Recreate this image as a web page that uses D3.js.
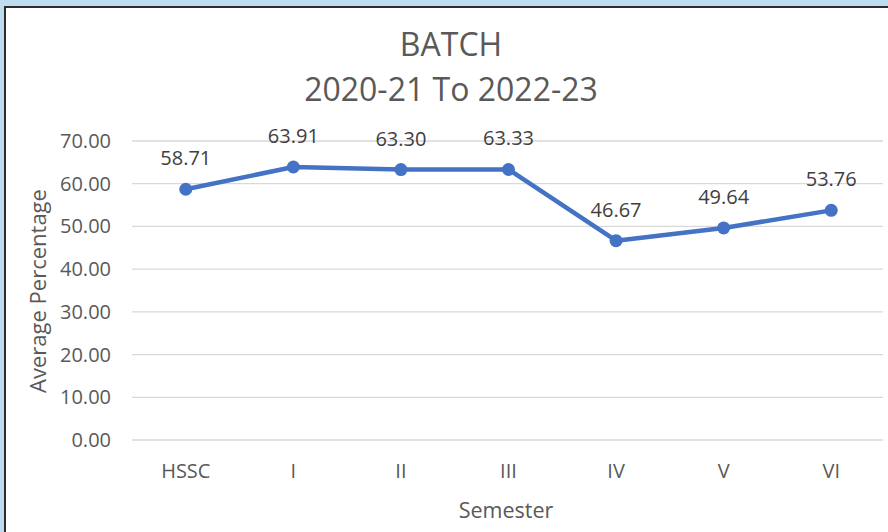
<!DOCTYPE html>
<html>
<head>
<meta charset="utf-8">
<script src="https://cdn.jsdelivr.net/npm/d3@7"></script>
<style>
  html, body { margin: 0; padding: 0; background: #bddcef; }
  #chart { position: absolute; left: 0; top: 0; }
  text { font-family: "Open Sans", "Noto Sans", sans-serif; }
</style>
</head>
<body>
<div id="chart"></div>
<script>
const W = 888, H = 532;

// data
const semesters = ['HSSC', 'I', 'II', 'III', 'IV', 'V', 'VI'];
const averages = [58.71, 63.91, 63.30, 63.33, 46.67, 49.64, 53.76];
const yTicks = [0, 10, 20, 30, 40, 50, 60, 70];
const titleLines = ['BATCH', '2020-21 To 2022-23'];

const svg = d3.select('#chart')
  .append('svg')
  .attr('width', W)
  .attr('height', H);

// outer frame (white chart panel with dark edge)
svg.append('rect')
  .attr('x', 5).attr('y', 7)
  .attr('width', W + 10).attr('height', H + 10)
  .attr('fill', '#ffffff')
  .attr('stroke', '#2b2b2b')
  .attr('stroke-width', 2);

const plot = { left: 132, right: 885, top: 141, bottom: 440 };

const x = d3.scaleBand()
  .domain(semesters)
  .range([plot.left, plot.right]);

const y = d3.scaleLinear()
  .domain([0, 70])
  .range([plot.bottom, plot.top]);

// gridlines
svg.append('g')
  .selectAll('line')
  .data(yTicks)
  .join('line')
  .attr('x1', plot.left)
  .attr('x2', plot.right - 2)
  .attr('y1', d => y(d))
  .attr('y2', d => y(d))
  .attr('stroke', '#d9d9d9')
  .attr('stroke-width', 1.3);

// y tick labels
svg.append('g')
  .selectAll('text')
  .data(yTicks)
  .join('text')
  .attr('x', 111)
  .attr('y', d => y(d))
  .attr('dy', '0.35em')
  .attr('text-anchor', 'end')
  .attr('fill', '#595959')
  .attr('font-size', '20px')
  .text(d => d.toFixed(2));

// x tick labels
svg.append('g')
  .selectAll('text')
  .data(semesters)
  .join('text')
  .attr('x', d => x(d) + x.bandwidth() / 2)
  .attr('y', 471)
  .attr('dy', '0.35em')
  .attr('text-anchor', 'middle')
  .attr('fill', '#595959')
  .attr('font-size', '20px')
  .text(d => d);

// title
svg.append('g')
  .selectAll('text')
  .data(titleLines)
  .join('text')
  .attr('x', 451)
  .attr('y', (d, i) => 45 + i * 45)
  .attr('dy', '0.35em')
  .attr('text-anchor', 'middle')
  .attr('fill', '#595959')
  .attr('font-size', '32px')
  .text(d => d);

// axis titles
svg.append('text')
  .attr('transform', 'translate(38,291) rotate(-90)')
  .attr('dy', '0.35em')
  .attr('text-anchor', 'middle')
  .attr('fill', '#595959')
  .attr('font-size', '22px')
  .text('Average Percentage');

svg.append('text')
  .attr('x', 506)
  .attr('y', 510)
  .attr('dy', '0.35em')
  .attr('text-anchor', 'middle')
  .attr('fill', '#595959')
  .attr('font-size', '21.5px')
  .text('Semester');

// series
const pts = semesters.map((s, i) => ({ s, v: averages[i] }));

const line = d3.line()
  .x(d => x(d.s) + x.bandwidth() / 2)
  .y(d => y(d.v));

svg.append('path')
  .datum(pts)
  .attr('d', line)
  .attr('fill', 'none')
  .attr('stroke', '#4472c4')
  .attr('stroke-width', 4.5)
  .attr('stroke-linejoin', 'round')
  .attr('stroke-linecap', 'round');

svg.append('g')
  .selectAll('circle')
  .data(pts)
  .join('circle')
  .attr('cx', d => x(d.s) + x.bandwidth() / 2)
  .attr('cy', d => y(d.v))
  .attr('r', 6.5)
  .attr('fill', '#4472c4');

// data labels
svg.append('g')
  .selectAll('text')
  .data(pts)
  .join('text')
  .attr('x', d => x(d.s) + x.bandwidth() / 2)
  .attr('y', d => y(d.v) - 31)
  .attr('dy', '0.35em')
  .attr('text-anchor', 'middle')
  .attr('fill', '#404040')
  .attr('font-size', '20px')
  .text(d => d.v.toFixed(2));
</script>
</body>
</html>
